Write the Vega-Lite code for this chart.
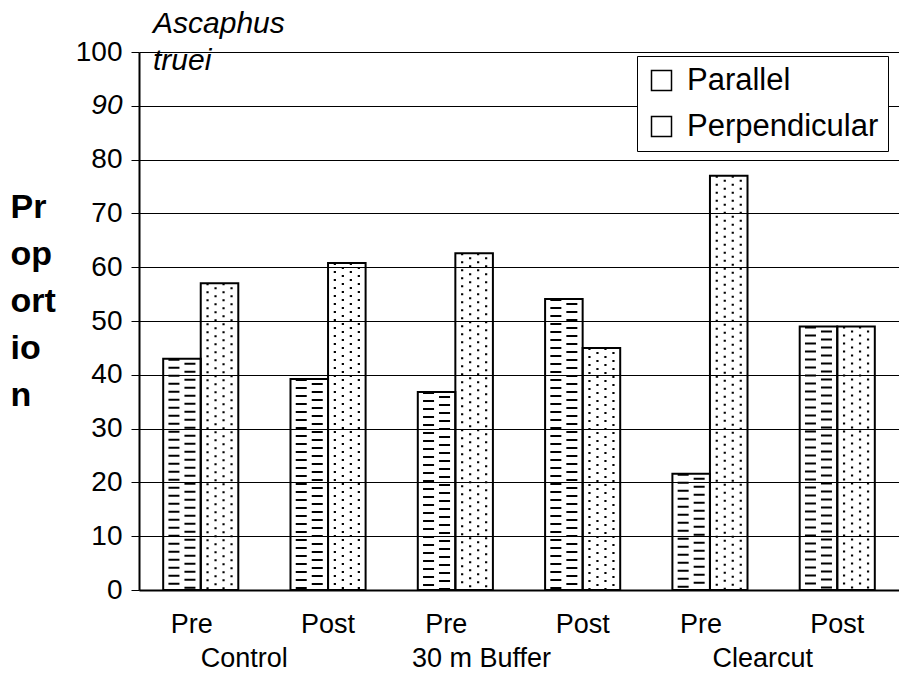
{
  "$schema": "https://vega.github.io/schema/vega-lite/v6.json",
  "width": 760,
  "height": 538,
  "autosize": {"type": "none"},
  "padding": {"left": 139, "top": 52, "right": 0, "bottom": 104},
  "background": "white",
  "config": {
    "font": "Liberation Sans",
    "view": {"stroke": null}
  },
  "title": {
    "text": ["Ascaphus", "truei"],
    "anchor": "start",
    "frame": "group",
    "dx": 14,
    "offset": -62,
    "baseline": "alphabetic",
    "lineHeight": 37,
    "font": "Liberation Sans",
    "fontSize": 30,
    "fontStyle": "italic",
    "fontWeight": "normal",
    "color": "black"
  },
  "data": {
    "values": [
      {"group": "Control", "cat": "Control Pre", "series": "Parallel", "value": 43},
      {"group": "Control", "cat": "Control Pre", "series": "Perpendicular", "value": 57},
      {"group": "Control", "cat": "Control Post", "series": "Parallel", "value": 39.2},
      {"group": "Control", "cat": "Control Post", "series": "Perpendicular", "value": 60.8},
      {"group": "30 m Buffer", "cat": "30 m Buffer Pre", "series": "Parallel", "value": 36.8},
      {"group": "30 m Buffer", "cat": "30 m Buffer Pre", "series": "Perpendicular", "value": 62.6},
      {"group": "30 m Buffer", "cat": "30 m Buffer Post", "series": "Parallel", "value": 54.1},
      {"group": "30 m Buffer", "cat": "30 m Buffer Post", "series": "Perpendicular", "value": 45},
      {"group": "Clearcut", "cat": "Clearcut Pre", "series": "Parallel", "value": 21.6},
      {"group": "Clearcut", "cat": "Clearcut Pre", "series": "Perpendicular", "value": 77},
      {"group": "Clearcut", "cat": "Clearcut Post", "series": "Parallel", "value": 49},
      {"group": "Clearcut", "cat": "Clearcut Post", "series": "Perpendicular", "value": 49}
    ]
  },
  "layer": [
    {
      "encoding": {
        "x": {
          "field": "cat",
          "type": "nominal",
          "sort": null,
          "scale": {"paddingInner": 0.41, "paddingOuter": 0.19},
          "axis": {
            "title": null,
            "orient": "bottom",
            "labelAngle": 0,
            "labelExpr": "slice(datum.label, lastindexof(datum.label, ' ') + 1)",
            "labelFont": "Liberation Sans",
            "labelFontSize": 27,
            "labelColor": "black",
            "labelPadding": 21,
            "labelOffset": {"condition": {"test": "indexof(datum.value, 'Pre') >= 0", "value": -9}, "value": 0},
            "ticks": false,
            "grid": false,
            "domain": true,
            "domainColor": "black",
            "domainWidth": 2
          }
        },
        "y": {
          "field": "value",
          "type": "quantitative",
          "scale": {"domain": [0, 100], "nice": false},
          "axis": {
            "values": [0, 10, 20, 30, 40, 50, 60, 70, 80, 90, 100],
            "title": ["Pr", "op", "ort", "io", "n"],
            "titleAngle": 0,
            "titleAlign": "left",
            "titleBaseline": "alphabetic",
            "titleX": -129,
            "titleY": 165,
            "titleLineHeight": 47,
            "titleFont": "Liberation Sans",
            "titleFontSize": 34,
            "titleFontWeight": "bold",
            "titleColor": "black",
            "labelFont": "Liberation Sans",
            "labelFontSize": 28,
            "labelColor": "black",
            "labelPadding": 9,
            "labelFontStyle": {"condition": {"test": "datum.value == 90", "value": "italic"}, "value": "normal"},
            "tickSize": 8,
            "tickColor": "black",
            "tickWidth": 1,
            "domainColor": "black",
            "domainWidth": 2,
            "grid": true,
            "gridColor": "black",
            "gridWidth": 1,
            "gridOpacity": 1
          }
        }
      },
      "layer": [
        {
          "mark": {"type": "bar", "filled": false, "strokeWidth": 2},
          "encoding": {
            "xOffset": {"field": "series", "type": "nominal", "scale": {"paddingInner": 0, "paddingOuter": 0}},
            "color": {
              "field": "series",
              "type": "nominal",
              "scale": {"range": ["black", "black"]},
              "legend": {
                "title": null,
                "orient": "none",
                "legendX": 498,
                "legendY": 4,
                "fillColor": "white",
                "strokeColor": "black",
                "padding": 9,
                "labelFont": "Liberation Sans",
                "labelFontSize": 31,
                "labelColor": "black",
                "labelLimit": 0,
                "labelOffset": 10,
                "symbolType": "square",
                "symbolSize": 400,
                "symbolStrokeWidth": 1.5,
                "symbolFillColor": "white",
                "rowPadding": 14
              }
            }
          }
        },
        {
          "transform": [{"filter": "datum.series === 'Parallel'"}],
          "mark": {"type": "rule", "color": "black", "strokeWidth": 11, "strokeDash": [2, 6], "xOffset": -26.8},
          "encoding": {"y2": {"datum": 0}}
        },
        {
          "transform": [{"filter": "datum.series === 'Parallel'"}],
          "mark": {"type": "rule", "color": "black", "strokeWidth": 11, "strokeDash": [2, 6], "strokeDashOffset": 4, "xOffset": -10.8},
          "encoding": {"y2": {"datum": 0}}
        },
        {
          "transform": [{"filter": "datum.series === 'Perpendicular'"}],
          "mark": {"type": "rule", "color": "black", "strokeWidth": 2.2, "strokeDash": [2, 6], "xOffset": 6.8},
          "encoding": {"y2": {"datum": 0}}
        },
        {
          "transform": [{"filter": "datum.series === 'Perpendicular'"}],
          "mark": {"type": "rule", "color": "black", "strokeWidth": 2.2, "strokeDash": [2, 6], "strokeDashOffset": 4, "xOffset": 14.8},
          "encoding": {"y2": {"datum": 0}}
        },
        {
          "transform": [{"filter": "datum.series === 'Perpendicular'"}],
          "mark": {"type": "rule", "color": "black", "strokeWidth": 2.2, "strokeDash": [2, 6], "xOffset": 22.8},
          "encoding": {"y2": {"datum": 0}}
        },
        {
          "transform": [{"filter": "datum.series === 'Perpendicular'"}],
          "mark": {"type": "rule", "color": "black", "strokeWidth": 2.2, "strokeDash": [2, 6], "strokeDashOffset": 4, "xOffset": 30.8},
          "encoding": {"y2": {"datum": 0}}
        }
      ]
    },
    {
      "mark": {"type": "point", "opacity": 0},
      "encoding": {
        "x": {
          "field": "group",
          "type": "nominal",
          "sort": null,
          "axis": {
            "title": null,
            "orient": "bottom",
            "labelAngle": 0,
            "labelFont": "Liberation Sans",
            "labelFontSize": 27,
            "labelColor": "black",
            "labelPadding": 55,
            "labelOffset": {"condition": [{"test": "datum.value === 'Control'", "value": -22}, {"test": "datum.value === '30 m Buffer'", "value": -38}], "value": -10},
            "ticks": false,
            "grid": false,
            "domain": false
          }
        },
        "y": {"field": "value", "type": "quantitative"}
      }
    }
  ],
  "resolve": {"scale": {"x": "independent", "y": "shared"}, "axis": {"x": "independent"}}
}
